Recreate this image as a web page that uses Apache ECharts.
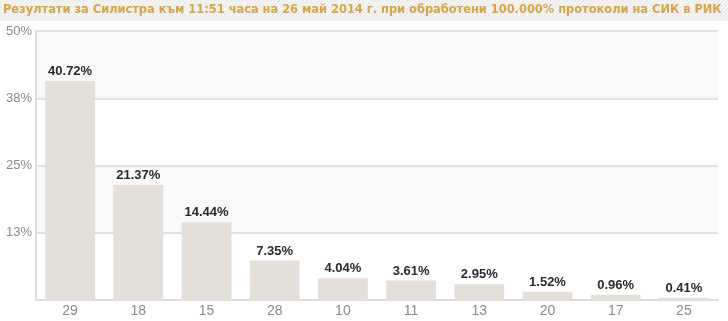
<!DOCTYPE html>
<html><head><meta charset="utf-8">
<script src="https://cdn.jsdelivr.net/npm/echarts@6/dist/echarts.min.js"></script>
<style>html,body{margin:0;padding:0;background:#fff}#c{width:728px;height:321px}</style>
</head><body><div id="c"></div>
<script>
const titleText = 'Резултати за Силистра към 11:51 часа на 26 май 2014 г. при обработени 100.000% протоколи на СИК в РИК';
const categories = ['29','18','15','28','10','11','13','20','17','25'];
const values = [40.72,21.37,14.44,7.35,4.04,3.61,2.95,1.52,0.96,0.41];
const yMax = 50, yInterval = 12.5;

const pc = document.createElement('canvas');
pc.width = 4; pc.height = 4;
const g = pc.getContext('2d');
g.fillStyle = '#f4f4f4'; g.fillRect(0,0,4,4);
g.fillStyle = '#e6e6e6';
for (let i=0;i<4;i++){ g.fillRect(i,3-i,1,1); }

const chart = echarts.init(document.getElementById('c'), null, {renderer:'canvas'});
chart.setOption({
  animation:false,
  graphic:[
    {type:'rect', left:0, top:0, shape:{width:728,height:21}, style:{fill:{image:pc, repeat:'repeat'}}, z:-1},
    {type:'text', left:3, top:3, style:{text:titleText, fill:'#d9a544', font:'bold 12.7px "DejaVu Sans Condensed", Tahoma, sans-serif'}}
  ],
  grid:{left:36, right:10, top:31, bottom:21},
  xAxis:{type:'category', data:categories,
    axisLine:{lineStyle:{color:'#dddddd', width:2}}, axisTick:{show:false},
    axisLabel:{color:'#8a8a8a', fontSize:14, fontFamily:'Liberation Sans, Arial', margin:4}},
  yAxis:{type:'value', min:0, max:yMax, interval:yInterval,
    axisLine:{show:true, lineStyle:{color:'#dddddd', width:2}}, axisTick:{show:false},
    axisLabel:{color:'#8a8a8a', fontSize:13, fontFamily:'Liberation Sans, Arial', margin:4,
      formatter:v=>v===0?'':Math.round(v)+'%'},
    splitLine:{lineStyle:{color:'#e0e0e0', width:2}},
    splitArea:{show:true, areaStyle:{color:['#ffffff','#f9f9f9']}}},
  series:[{type:'bar', data:values, barWidth:'73%',
    itemStyle:{color:'#e4e0d9'},
    label:{show:true, position:'top', distance:3, color:'#2a2a2a', fontWeight:'bold', fontSize:13,
      fontFamily:'Liberation Sans, Arial', formatter:p=>p.value.toFixed(2)+'%'}}]
});
</script></body></html>
